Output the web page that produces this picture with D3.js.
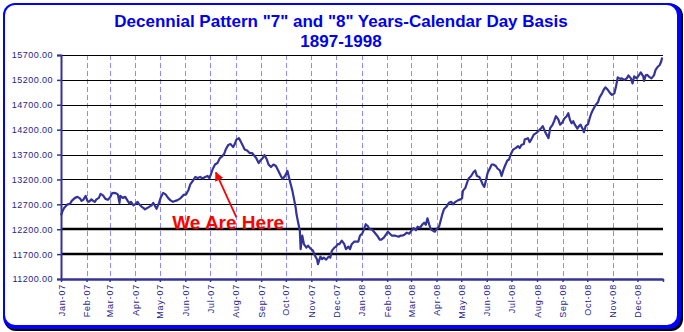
<!DOCTYPE html>
<html>
<head>
<meta charset="utf-8">
<script src="https://cdn.jsdelivr.net/npm/d3@7/dist/d3.min.js"></script>
<style>
  body { margin: 0; background: #fff; }
  svg { display: block; }
  text { font-family: "Liberation Sans", Arial, sans-serif; }
</style>
</head>
<body>
<svg id="chart" width="684" height="332"></svg>
<script>
// Calendar-day offsets from 1 January of year "7", and the composite index value on that day.
const dayOffsets = [
  0,2,4,8,11,13,17,20,23,25,
  27,30,32,34,37,39,41,43,46,48,
  51,54,57,60,62,64,67,69,71,72,
  75,78,81,83,85,88,90,93,95,98,
  100,102,105,107,110,112,114,116,119,121,
  124,127,130,133,136,139,141,145,149,152,
  155,157,160,163,166,169,172,175,178,180,
  182,184,187,190,193,196,198,200,203,206,
  209,211,213,216,218,221,223,226,229,232,
  234,237,240,242,245,247,250,252,255,258,
  261,264,267,269,272,275,277,279,281,283,
  285,286,288,290,291,293,295,298,300,303,
  306,308,311,312,315,317,319,322,325,327,
  329,332,334,336,338,341,344,346,349,351,
  353,356,358,361,363,366,368,370,372,375,
  378,381,384,387,389,392,395,397,400,402,
  406,410,412,414,417,420,423,426,428,431,
  433,436,439,441,443,445,447,449,452,454,
  457,459,461,463,465,468,471,474,476,479,
  482,485,487,488,491,493,495,498,501,503,
  505,508,510,512,514,516,518,521,523,525,
  528,530,533,535,537,539,542,544,546,549,
  552,555,557,559,562,563,567,569,571,574,
  577,580,583,585,588,590,592,594,597,599,
  601,604,606,609,611,614,616,618,620,622,
  624,627,629,631,633,635,637,640,642,644,
  646,649,652,654,657,659,661,664,667,669,
  672,674,676,679,681,684,687,689,692,694,
  696,699,702,704,707,708,710,712,715,717,
  720,722,725,727,729,730
];
const indexValues = [
  12480,12570,12630,12700,12710,12770,12830,12850,12820,12770,
  12790,12870,12770,12750,12800,12770,12750,12800,12830,12910,
  12880,12810,12790,12850,12920,12930,12920,12900,12730,12870,
  12830,12850,12770,12720,12750,12680,12700,12750,12700,12650,
  12630,12600,12630,12650,12680,12730,12670,12610,12730,12830,
  12930,12900,12830,12780,12750,12770,12780,12820,12890,12900,
  13000,13100,13170,13250,13230,13250,13220,13250,13270,13230,
  13300,13400,13500,13530,13630,13670,13710,13800,13890,13910,
  13850,13910,14000,14030,13970,13870,13800,13780,13730,13730,
  13690,13630,13530,13580,13630,13690,13600,13500,13450,13500,
  13470,13370,13270,13210,13270,13370,13230,13100,12970,12800,
  12630,12500,12330,12170,11800,12070,11900,11830,11870,11810,
  11770,11680,11590,11500,11650,11600,11630,11590,11650,11630,
  11770,11830,11850,11900,11900,11970,11900,11800,11850,11800,
  11900,11950,11950,11950,12070,12120,12200,12300,12270,12200,
  12190,12130,12070,11990,11990,12030,12100,12150,12100,12070,
  12070,12050,12070,12070,12090,12130,12110,12180,12220,12180,
  12250,12230,12300,12330,12290,12420,12300,12200,12170,12150,
  12220,12250,12370,12500,12600,12650,12730,12750,12700,12750,
  12780,12800,12820,12970,13030,13130,13220,13270,13350,13380,
  13270,13250,13180,13100,13050,13180,13330,13430,13500,13500,
  13470,13420,13380,13270,13380,13470,13580,13600,13700,13800,
  13830,13870,13830,13890,13910,14000,14030,13950,14000,14100,
  14130,14180,14230,14270,14150,14090,14030,14230,14300,14380,
  14470,14400,14300,14350,14420,14470,14530,14400,14330,14370,
  14300,14220,14270,14300,14230,14150,14270,14310,14430,14530,
  14600,14690,14750,14850,14930,15000,15050,15000,14930,14900,
  14930,15070,15250,15220,15230,15200,15230,15290,15230,15130,
  15270,15230,15300,15350,15270,15180,15290,15300,15250,15230,
  15290,15400,15470,15500,15580,15650
];
const yTickValues = [11200,11700,12200,12700,13200,13700,14200,14700,15200,15700];
const heavyGridValues = [11700,12200];
const titleLines = ['Decennial Pattern "7" and "8" Years-Calendar Day Basis', '1897-1998'];
const calloutText = "We Are Here";
// callout anchors in data space: [day, value]
const calloutLabelAt = [135, 12200];
const arrowTail = [213, 12440];
const arrowTip = [188, 13340];

const startDate = new Date(Date.UTC(2007, 0, 1));
const endDate = new Date(Date.UTC(2009, 0, 1));
const series = dayOffsets.map((d, i) => ({ date: d3.utcDay.offset(startDate, d), value: indexValues[i] }));

const svg = d3.select("#chart");
const navy = "#333399";
const labelBlue = "#1e1e8c";
const fontStack = '"Liberation Sans", Arial, sans-serif';

// Frame: dark drop shadow, blue rounded border, white panel
svg.append("rect").attr("x", 4).attr("y", 4).attr("width", 679).attr("height", 327).attr("rx", 12).attr("fill", "#000");
svg.append("rect").attr("x", 3).attr("y", 3).attr("width", 678).attr("height", 326).attr("rx", 12).attr("fill", "#0000ff");
svg.append("rect").attr("x", 5).attr("y", 5).attr("width", 672).attr("height", 320).attr("rx", 10).attr("fill", "#fff");

// Title
svg.append("text").attr("x", 341).attr("y", 27).attr("text-anchor", "middle")
  .attr("fill", "#0000f0").attr("font-weight", "bold").attr("font-size", 17).text(titleLines[0]);
svg.append("text").attr("x", 341).attr("y", 46.5).attr("text-anchor", "middle")
  .attr("fill", "#0000f0").attr("font-weight", "bold").attr("font-size", 17).text(titleLines[1]);

const x = d3.scaleUtc().domain([startDate, endDate]).range([61, 663]);
const y = d3.scaleLinear().domain([11200, 15700]).range([279, 55]);

const monthStarts = d3.utcMonth.range(startDate, endDate);
const crisp = v => Math.round(v) + 0.5;

// Vertical dashed month lines
svg.append("g").selectAll("line").data(monthStarts.slice(1)).join("line")
  .attr("x1", d => crisp(x(d))).attr("x2", d => crisp(x(d)))
  .attr("y1", y(15700)).attr("y2", y(11200))
  .attr("stroke", "#8c8cff").attr("stroke-width", 1).attr("stroke-dasharray", "5,3");

// Horizontal gridlines
svg.append("g").selectAll("line").data(yTickValues.slice(1)).join("line")
  .attr("x1", x(startDate)).attr("x2", x(endDate))
  .attr("y1", d => heavyGridValues.includes(d) ? Math.round(y(d)) : crisp(y(d)))
  .attr("y2", d => heavyGridValues.includes(d) ? Math.round(y(d)) : crisp(y(d)))
  .attr("stroke", "#000").attr("stroke-width", d => heavyGridValues.includes(d) ? 2.6 : 1);

// Index line
const line = d3.line().x(d => x(d.date)).y(d => y(d.value));
svg.append("path").datum(series).attr("d", line)
  .attr("fill", "none").attr("stroke", navy).attr("stroke-width", 2.2).attr("stroke-linejoin", "round");

// Y axis
const yAxis = d3.axisLeft(y).tickValues(yTickValues).tickFormat(d3.format(".2f")).tickSize(4).tickPadding(4);
const gy = svg.append("g").attr("transform", "translate(61,0)").call(yAxis);
gy.select(".domain").attr("stroke", navy).attr("stroke-width", 2);
gy.selectAll(".tick line").attr("stroke", navy).attr("stroke-width", 1.5);
gy.selectAll(".tick text").attr("fill", labelBlue).attr("font-size", 9)
  .style("font-family", fontStack).style("letter-spacing", "0.45px");

// X axis with rotated month labels
const monthFmt = d3.utcFormat("%b-%y");
const xAxis = d3.axisBottom(x).tickValues(monthStarts.concat([endDate]))
  .tickFormat(d => +d === +endDate ? "" : monthFmt(d)).tickSize(3).tickSizeOuter(0);
const gx = svg.append("g").attr("transform", "translate(0,279)").call(xAxis);
gx.select(".domain").attr("stroke", navy).attr("stroke-width", 2.5);
gx.selectAll(".tick line").attr("stroke", navy).attr("stroke-width", 1.5);
gx.selectAll(".tick text")
  .attr("transform", "rotate(-90)")
  .attr("x", -5).attr("y", 0).attr("dy", "0.35em")
  .attr("text-anchor", "end")
  .attr("fill", labelBlue).attr("font-size", 9)
  .style("font-family", fontStack).style("letter-spacing", "0.8px");

// Callout
const dayX = d => x(d3.utcDay.offset(startDate, d));
svg.append("defs").append("marker")
  .attr("id", "arrowhead").attr("viewBox", "0 0 10 10").attr("refX", 9).attr("refY", 5)
  .attr("markerWidth", 5).attr("markerHeight", 5).attr("orient", "auto")
  .append("path").attr("d", "M0,0L10,5L0,10z").attr("fill", "#ff0000");
svg.append("line")
  .attr("x1", dayX(arrowTail[0])).attr("y1", y(arrowTail[1]))
  .attr("x2", dayX(arrowTip[0])).attr("y2", y(arrowTip[1]))
  .attr("stroke", "#ff0000").attr("stroke-width", 1.8).attr("marker-end", "url(#arrowhead)");
svg.append("text")
  .attr("x", dayX(calloutLabelAt[0])).attr("y", y(calloutLabelAt[1]))
  .attr("fill", "#ff0000").attr("font-weight", "bold").attr("font-size", 19)
  .text(calloutText);
</script>
</body>
</html>
